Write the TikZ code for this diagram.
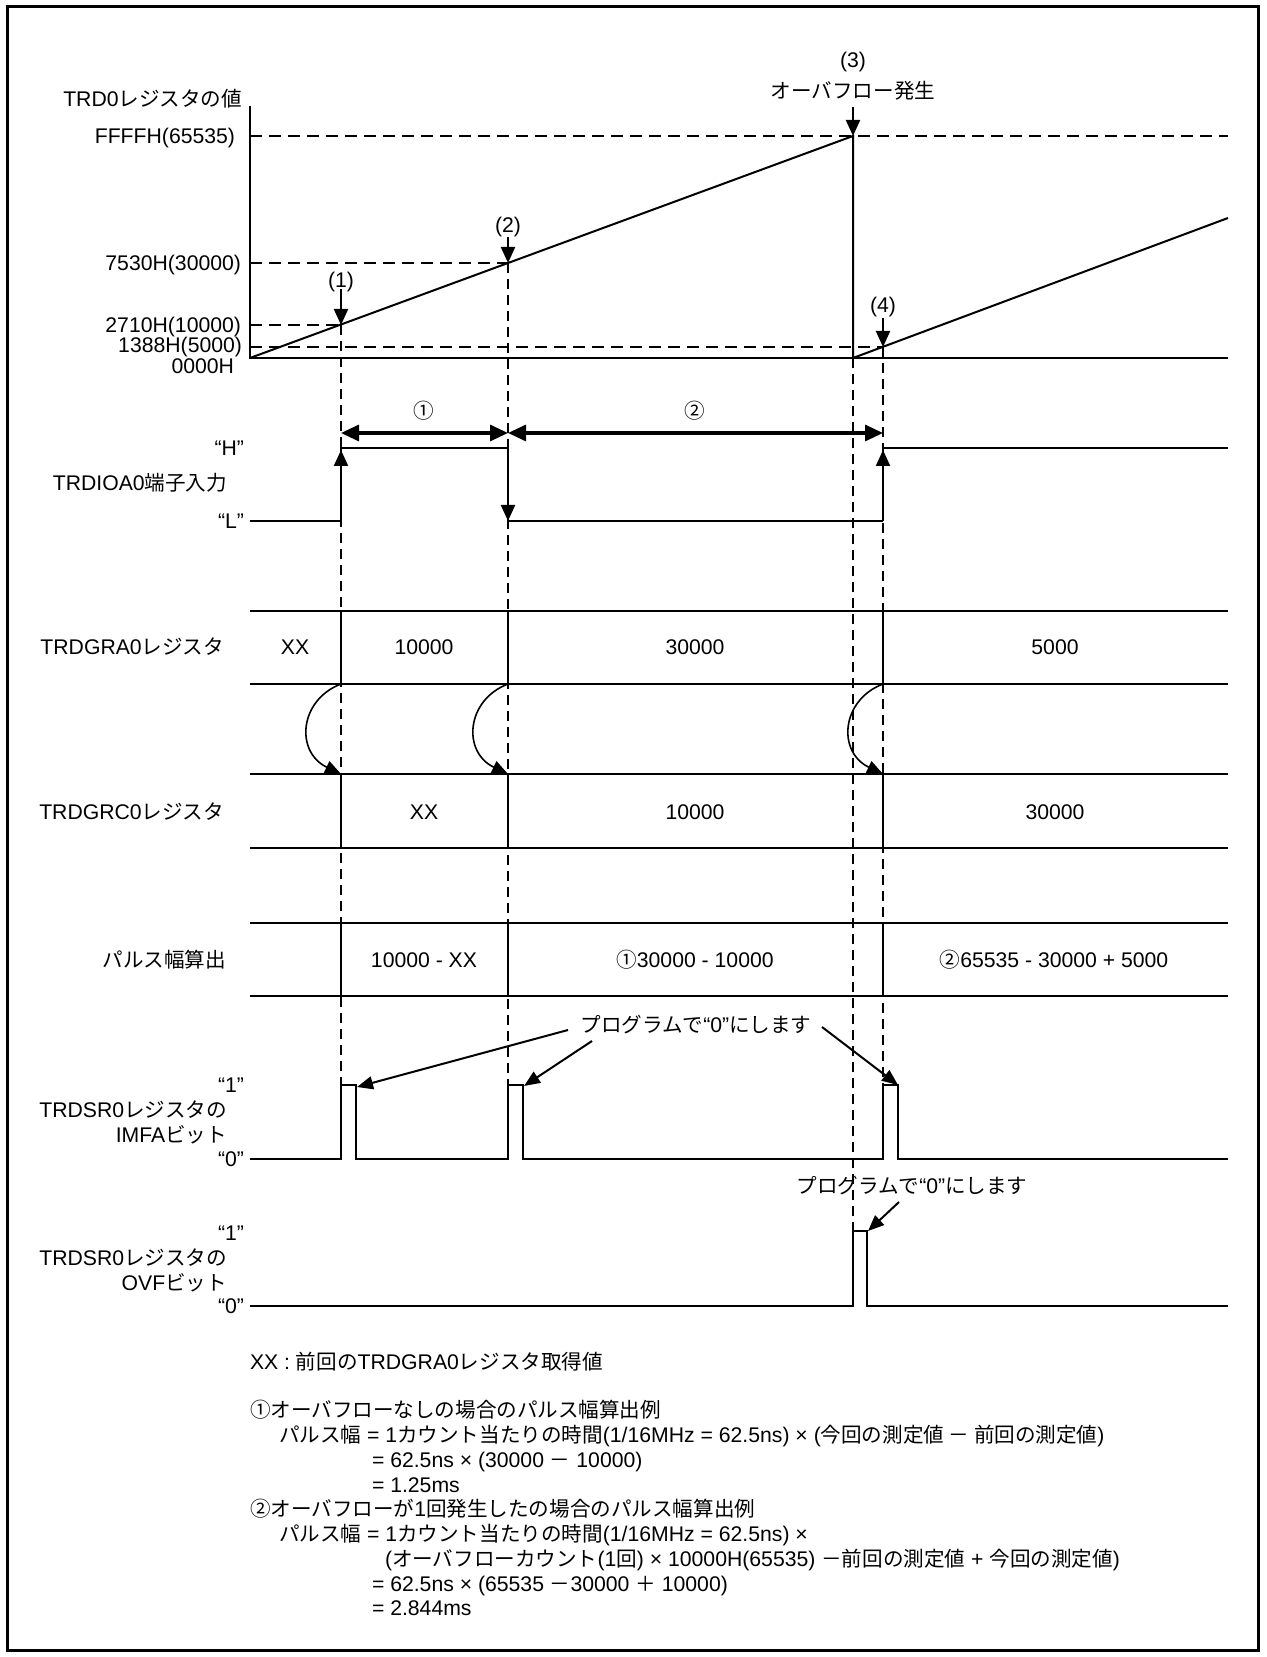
\documentclass[tikz,border=0pt]{standalone}
\usepackage{fontspec}
\setmainfont{Liberation Sans}
\newfontfamily\jpf[Scale=0.97]{Noto Sans CJK JP}
\newcommand\J[1]{{\jpf #1}}
\usetikzlibrary{arrows.meta}
\begin{document}
\begin{tikzpicture}[x=0.5pt,y=-0.5pt,
  every node/.style={inner sep=0pt,outer sep=0pt,font=\fontsize{10.6pt}{12.5pt}\selectfont,text height=7.6pt,text depth=0pt},
  ln/.style={line width=1pt},
  dsh/.style={line width=0.9pt,dash pattern=on 6pt off 3.5pt},
  dv/.style={line width=0.8pt,dash pattern=on 5pt off 3pt},
  tip/.style={-{Triangle[length=8pt,width=7pt]}},
  dbl/.style={line width=1.6pt,{Triangle[length=9pt,width=8pt]}-{Triangle[length=9pt,width=8pt]}},
]
\def\xa{341}\def\xb{508}\def\xc{853}\def\xd{883}\def\xr{1228}\def\xo{250}
\useasboundingbox (0,0) rectangle (1266,1657);
% frame
\draw[line width=1.5pt] (7,7) rectangle (1258,1650);

% ---------- counter graph ----------
\node[anchor=east] (lTRD) at (242,99) {TRD0\J{レジスタの値}};
\node[anchor=east] (lF) at (235,136) {FFFFH(65535)};
\node[anchor=east] (l75) at (241,263) {7530H(30000)};
\node[anchor=east] (l27) at (241,325) {2710H(10000)};
\node[anchor=east] (l13) at (242,345) {1388H(5000)};
\node[anchor=east] (l00) at (234,366) {0000H};

\coordinate (o) at (\xo,358);
\coordinate (top) at (\xo,106);
\coordinate (ovf) at (\xc,136);
\coordinate (ovz) at (\xc,358);
\coordinate (p1) at (\xa,325);
\coordinate (p2) at (\xb,263);
\coordinate (p4) at (\xd,347);
\coordinate (rend) at (\xr,218);

\draw[dsh] (\xo,136) -- (\xr,136);
\draw[dsh] (\xo,263) -- (p2);
\draw[dsh] (\xo,325) -- (p1);
\draw[dsh] (\xo,347) -- (p4);

\draw[ln] (top) -- (o) -- (\xr,358);
\draw[ln] (o) -- (ovf) -- (ovz) -- (rend);

% event markers
\node (e1) at (\xa,280) {(1)};
\draw[ln,tip] (\xa,289) -- (p1);
\node (e2) at (\xb,225) {(2)};
\draw[ln,tip] (\xb,237) -- (p2);
\node (e3) at (\xc,60) {(3)};
\node (e3t) at (\xc,91) {\J{オーバフロー発生}};
\draw[ln,tip] (\xc,107) -- (ovf);
\node (e4) at (\xd,305) {(4)};
\draw[ln,tip] (\xd,318) -- (p4);

% vertical dashed guides
\draw[dv] (p1) -- (\xa,1085);
\draw[dv] (p2) -- (\xb,1085);
\draw[dv] (ovz) -- (\xc,1231);
\draw[dv] (p4) -- (\xd,1085);

% ---------- periods ----------
\node (c1) at (424,411) {\J{①}};
\node (c2) at (695,411) {\J{②}};
\draw[dbl] (\xa,433) -- (\xb,433);
\draw[dbl] (\xb,433) -- (\xd,433);

% ---------- TRDIOA0 ----------
\node[anchor=east] (lH) at (244,448) {“H”};
\node[anchor=east] (lIO) at (227,483) {TRDIOA0\J{端子入力}};
\node[anchor=east] (lL) at (244,521) {“L”};
\draw[ln] (\xo,521) -- (\xa,521);
\draw[ln,tip] (\xa,521) -- (\xa,450);
\draw[ln] (\xa,452) -- (\xa,448) -- (\xb,448) -- (\xb,505);
\draw[ln,tip] (\xb,470) -- (\xb,521);
\draw[ln] (\xb,521) -- (\xd,521);
\draw[ln,tip] (\xd,521) -- (\xd,450);
\draw[ln] (\xd,452) -- (\xd,448) -- (\xr,448);

% ---------- register bands ----------
\foreach \yy in {611,684,774,848,923,996} \draw[ln] (\xo,\yy) -- (\xr,\yy);
\foreach \xx in {\xa,\xb,\xd} {
  \draw[ln] (\xx,611) -- (\xx,684);
  \draw[ln] (\xx,774) -- (\xx,848);
  \draw[ln] (\xx,923) -- (\xx,996);
  \draw[line width=0.8pt,-{Triangle[length=8pt,width=6.5pt]}] (\xx,684) .. controls (\xx-42,700) and (\xx-46,752) .. (\xx,774);
}
\node[anchor=east] (lGRA) at (224,647) {TRDGRA0\J{レジスタ}};
\node (a0) at (295,647) {XX};
\node (a1) at (424,647) {10000};
\node (a2) at (695,647) {30000};
\node (a3) at (1055,647) {5000};

\node[anchor=east] (lGRC) at (224,812) {TRDGRC0\J{レジスタ}};
\node (b1) at (424,812) {XX};
\node (b2) at (695,812) {10000};
\node (b3) at (1055,812) {30000};

\node[anchor=east] (lPW) at (226,960) {\J{パルス幅算出}};
\node (w1) at (424,960) {10000 - XX};
\node (w2) at (695,960) {\J{①}30000 - 10000};
\node (w3) at (1054,960) {\J{②}65535 - 30000 + 5000};

% ---------- IMFA ----------
\node[anchor=east] (lI1) at (244,1085) {“1”};
\node[anchor=east] (lI2) at (227,1110) {TRDSR0\J{レジスタの}};
\node[anchor=east] (lI3) at (227,1135) {IMFA\J{ビット}};
\node[anchor=east] (lI0) at (244,1159) {“0”};
\draw[ln] (\xo,1159) -- (\xa,1159) -- (\xa,1085) -- (\xa+15,1085) -- (\xa+15,1159)
  -- (\xb,1159) -- (\xb,1085) -- (\xb+15,1085) -- (\xb+15,1159)
  -- (\xd,1159) -- (\xd,1085) -- (\xd+15,1085) -- (\xd+15,1159) -- (\xr,1159);

\node (pg1) at (696,1025) {\J{プログラムで}“0”\J{にします}};
\coordinate (pa1) at (568,1030);
\coordinate (pa2) at (592,1041);
\coordinate (pa3) at (822,1027);
\draw[ln,-{Triangle[length=8pt,width=6.5pt]}] (pa1) -- (\xa+16,1087);
\draw[ln,-{Triangle[length=8pt,width=6.5pt]}] (pa2) -- (\xb+16,1086);
\draw[ln,-{Triangle[length=8pt,width=6.5pt]}] (pa3) -- (\xd+15,1085);

% ---------- OVF ----------
\node[anchor=east] (lO1) at (244,1233) {“1”};
\node[anchor=east] (lO2) at (227,1258) {TRDSR0\J{レジスタの}};
\node[anchor=east] (lO3) at (227,1283) {OVF\J{ビット}};
\node[anchor=east] (lO0) at (244,1306) {“0”};
\draw[ln] (\xo,1306) -- (\xc,1306) -- (\xc,1231) -- (\xc+14,1231) -- (\xc+14,1306) -- (\xr,1306);
\node (pg2) at (912,1186) {\J{プログラムで}“0”\J{にします}};
\coordinate (pb1) at (899,1202);
\draw[ln,-{Triangle[length=8pt,width=6.5pt]}] (pb1) -- (\xc+15,1231);

% ---------- notes ----------
\node[anchor=west] (n1) at (250,1362) {XX : \J{前回の}TRDGRA0\J{レジスタ取得値}};
\node[anchor=west] (n2) at (250,1410) {\J{①オーバフローなしの場合のパルス幅算出例}};
\node[anchor=west] (n3) at (279,1435) {\J{パルス幅} = 1\J{カウント当たりの時間}(1/16MHz = 62.5ns) × (\J{今回の測定値 － 前回の測定値})};
\node[anchor=west] (n4) at (372,1460) {= 62.5ns × (30000 \J{－} 10000)};
\node[anchor=west] (n5) at (372,1485) {= 1.25ms};
\node[anchor=west] (n6) at (250,1509) {\J{②オーバフローが}1\J{回発生したの場合のパルス幅算出例}};
\node[anchor=west] (n7) at (279,1534) {\J{パルス幅} = 1\J{カウント当たりの時間}(1/16MHz = 62.5ns) ×};
\node[anchor=west] (n8) at (385,1559) {(\J{オーバフローカウント}(1\J{回}) × 10000H(65535) \J{－前回の測定値} + \J{今回の測定値})};
\node[anchor=west] (n9) at (372,1584) {= 62.5ns × (65535 \J{－}30000 \J{＋} 10000)};
\node[anchor=west] (n10) at (372,1608) {= 2.844ms};
\end{tikzpicture}
\end{document}
